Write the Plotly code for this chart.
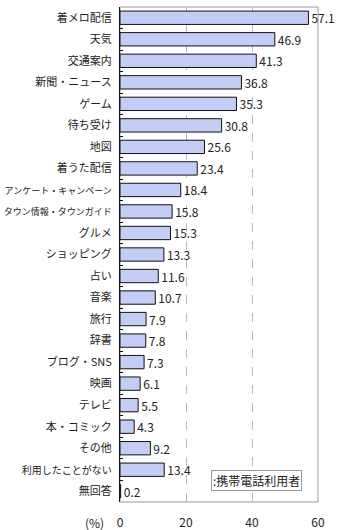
import plotly.graph_objects as go

categories = ["着メロ配信", "天気", "交通案内", "新聞・ニュース", "ゲーム", "待ち受け", "地図",
              "着うた配信", "アンケート・キャンペーン", "タウン情報・タウンガイド", "グルメ",
              "ショッピング", "占い", "音楽", "旅行", "辞書", "ブログ・SNS", "映画", "テレビ",
              "本・コミック", "その他", "利用したことがない", "無回答"]
values = [57.1, 46.9, 41.3, 36.8, 35.3, 30.8, 25.6, 23.4, 18.4, 15.8, 15.3, 13.3, 11.6,
          10.7, 7.9, 7.8, 7.3, 6.1, 5.5, 4.3, 9.2, 13.4, 0.2]
x_ticks = [0, 20, 40, 60]
series_name = ":携帯電話利用者"

FONT = "Noto Sans CJK JP"


def label(c):
    if len(c) >= 11:
        return f'<span style="font-size:9px">{c}</span>'
    if len(c) >= 8:
        return f'<span style="font-size:10px">{c}</span>'
    return c


fig = go.Figure()
fig.add_trace(go.Bar(
    x=values, y=categories, orientation="h",
    marker=dict(color="#c3cdf6", line=dict(color="#111111", width=1)),
    width=0.62,
    text=[f"{v:.1f}" for v in values], textposition="outside",
    constraintext="none",
    textfont=dict(family=FONT, size=12, color="#222222"),
    cliponaxis=False, showlegend=False,
))

fig.update_layout(
    width=340, height=530,
    margin=dict(l=120, r=22, t=7, b=28, autoexpand=False),
    paper_bgcolor="white", plot_bgcolor="white",
    font=dict(family=FONT, size=12, color="#222222"),
    xaxis=dict(range=[0, 60], tickvals=x_ticks, ticktext=[str(t) for t in x_ticks],
               showgrid=True, gridcolor="#bbbbbb", griddash="dash", gridwidth=1,
               zeroline=False, showline=False, ticks="", ticklabelstandoff=12,
               automargin=False, tickfont=dict(family=FONT, size=12)),
    yaxis=dict(categoryorder="array", categoryarray=categories, autorange="reversed",
               tickvals=categories, ticktext=[label(c) for c in categories],
               showline=True, linecolor="#111111", linewidth=1,
               ticks="inside", tickson="boundaries", ticklen=3, tickcolor="#111111",
               showgrid=False, ticklabelstandoff=5, automargin=False,
               tickfont=dict(family=FONT, size=11)),
    shapes=[dict(type="rect", xref="paper", yref="paper", x0=0, x1=1, y0=0, y1=1,
                 line=dict(color="#999999", width=1), layer="below")],
    annotations=[
        dict(text="(%)", xref="paper", yref="paper", x=-0.13, y=0, yshift=-20,
             showarrow=False, xanchor="center", yanchor="middle",
             font=dict(family=FONT, size=12)),
        dict(text=series_name, xref="paper", yref="paper", x=0.69, y=0.022,
             showarrow=False, xanchor="center", yanchor="bottom",
             bordercolor="#999999", borderwidth=1, bgcolor="white", borderpad=1,
             font=dict(family=FONT, size=12)),
    ],
)

fig.write_html("out.html")
